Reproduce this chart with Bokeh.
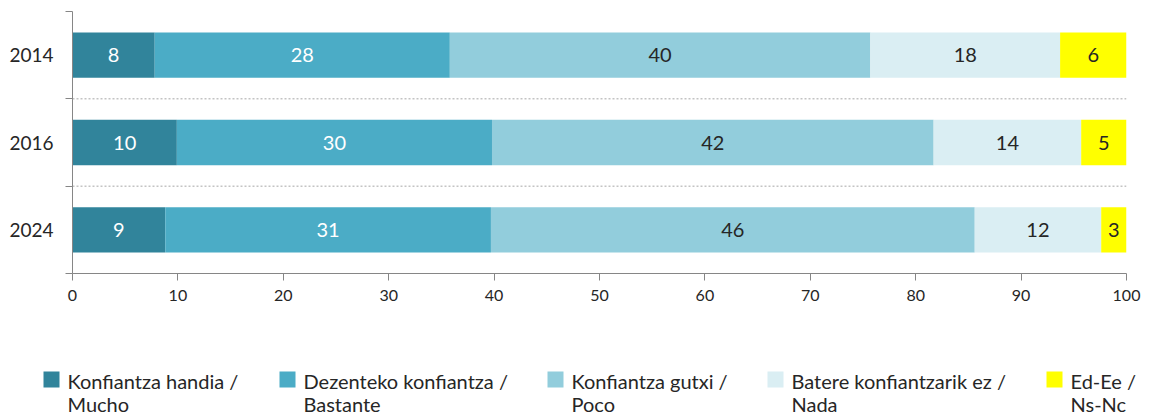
from bokeh.plotting import figure
from bokeh.models import Range1d, FixedTicker, Span, ColumnDataSource
from bokeh.layouts import column
from bokeh.embed import file_html
from bokeh.resources import INLINE
from bokeh.core.properties import value

# ---------------- data ----------------
years = ["2014", "2016", "2024"]
legend_line1 = ["Konfiantza handia /", "Dezenteko konfiantza /", "Konfiantza gutxi /",
                "Batere konfiantzarik ez /", "Ed-Ee /"]
legend_line2 = ["Mucho", "Bastante", "Poco", "Nada", "Ns-Nc"]
mucho = [7.8, 9.9, 8.8]
bastante = [28.0, 29.9, 30.9]
poco = [39.9, 41.9, 45.9]
nada = [18.0, 14.0, 12.0]
nsnc = [6.3, 4.3, 2.4]
labels_mucho = ["8", "10", "9"]
labels_bastante = ["28", "30", "31"]
labels_poco = ["40", "42", "46"]
labels_nada = ["18", "14", "12"]
labels_nsnc = ["6", "5", "3"]
x_ticks = [0, 10, 20, 30, 40, 50, 60, 70, 80, 90, 100]

colors = ["#31849B", "#4BACC6", "#92CDDC", "#DAEEF3", "#FFFF00"]
text_colors = ["#FFFFFF", "#FFFFFF", "#262626", "#262626", "#262626"]
FONT = "Lato"
W = 1141

values = [mucho, bastante, poco, nada, nsnc]
labels = [labels_mucho, labels_bastante, labels_poco, labels_nada, labels_nsnc]

n = len(years)
ypos = [n - i - 0.5 for i in range(n)]  # first year on top

p = figure(width=W, height=324, output_backend="svg", toolbar_location=None,
           x_range=Range1d(0, 100), y_range=Range1d(0, n),
           min_border_left=72, min_border_right=15, min_border_top=11, min_border_bottom=51)
p.outline_line_color = None
p.xgrid.grid_line_color = None
p.ygrid.grid_line_color = None

left = [0.0] * n
for vals, labs, col, tcol in zip(values, labels, colors, text_colors):
    right = [l + v for l, v in zip(left, vals)]
    mid = [(l + r) / 2 for l, r in zip(left, right)]
    src = ColumnDataSource(dict(y=ypos, left=left, right=right, mid=mid, lab=labs))
    p.hbar(y="y", left="left", right="right", height=0.52, source=src,
           fill_color=col, line_color=None)
    p.text(x="mid", y="y", text="lab", source=src, text_align="center",
           text_baseline="middle", text_color=tcol, text_font=value(FONT),
           text_font_size="20px")
    left = right

# dotted separators between categories
for b in range(1, n):
    p.add_layout(Span(location=b, dimension="width", line_color="#a6a6a6",
                      line_dash="2 2", line_width=1))

# y axis
ya = p.yaxis[0]
ya.ticker = FixedTicker(ticks=ypos, minor_ticks=list(range(0, n + 1)))
ya.major_label_overrides = {y: yr for y, yr in zip(ypos, years)}
ya.major_tick_out = 0
ya.major_tick_in = 0
ya.minor_tick_out = 7
ya.minor_tick_in = 0
ya.minor_tick_line_color = "#868686"
ya.axis_line_color = "#868686"
ya.major_label_standoff = 12
ya.major_label_text_font = FONT
ya.major_label_text_font_size = "19px"
ya.major_label_text_color = "#262626"

# x axis
xa = p.xaxis[0]
xa.ticker = FixedTicker(ticks=x_ticks)
xa.major_tick_out = 7
xa.major_tick_in = 0
xa.minor_tick_line_color = None
xa.axis_line_color = "#868686"
xa.major_tick_line_color = "#868686"
xa.major_label_standoff = 9
xa.major_label_text_font = FONT
xa.major_label_text_font_size = "16px"
xa.major_label_text_color = "#262626"

# ---------------- legend (separate strip, pixel coordinates) ----------------
leg_x = [43, 279, 547, 767, 1046]
LH = 92
lg = figure(width=W, height=LH, output_backend="svg", toolbar_location=None,
            x_range=Range1d(0, W), y_range=Range1d(LH, 0),
            x_axis_location=None, y_axis_location=None,
            min_border=0, min_border_left=0, min_border_right=0,
            min_border_top=0, min_border_bottom=0)
lg.grid.visible = False
lg.outline_line_color = None
for fig in (p, lg):
    if "frame_align" in fig.properties():
        fig.frame_align = False
lsrc = ColumnDataSource(dict(x0=leg_x, x1=[x + 16 for x in leg_x],
                             tx=[x + 24 for x in leg_x], c=colors,
                             l1=legend_line1, l2=legend_line2))
lg.quad(left="x0", right="x1", top=47, bottom=63, fill_color="c", line_color=None, source=lsrc)
lg.text(x="tx", y=56, text="l1", source=lsrc, text_baseline="middle",
        text_font=value(FONT), text_font_size="20px", text_color="#262626")
lg.text(x="tx", y=79, text="l2", source=lsrc, text_baseline="middle",
        text_font=value(FONT), text_font_size="20px", text_color="#262626")

layout = column(p, lg, spacing=0)
open("out.html", "w").write(file_html(layout, INLINE))
